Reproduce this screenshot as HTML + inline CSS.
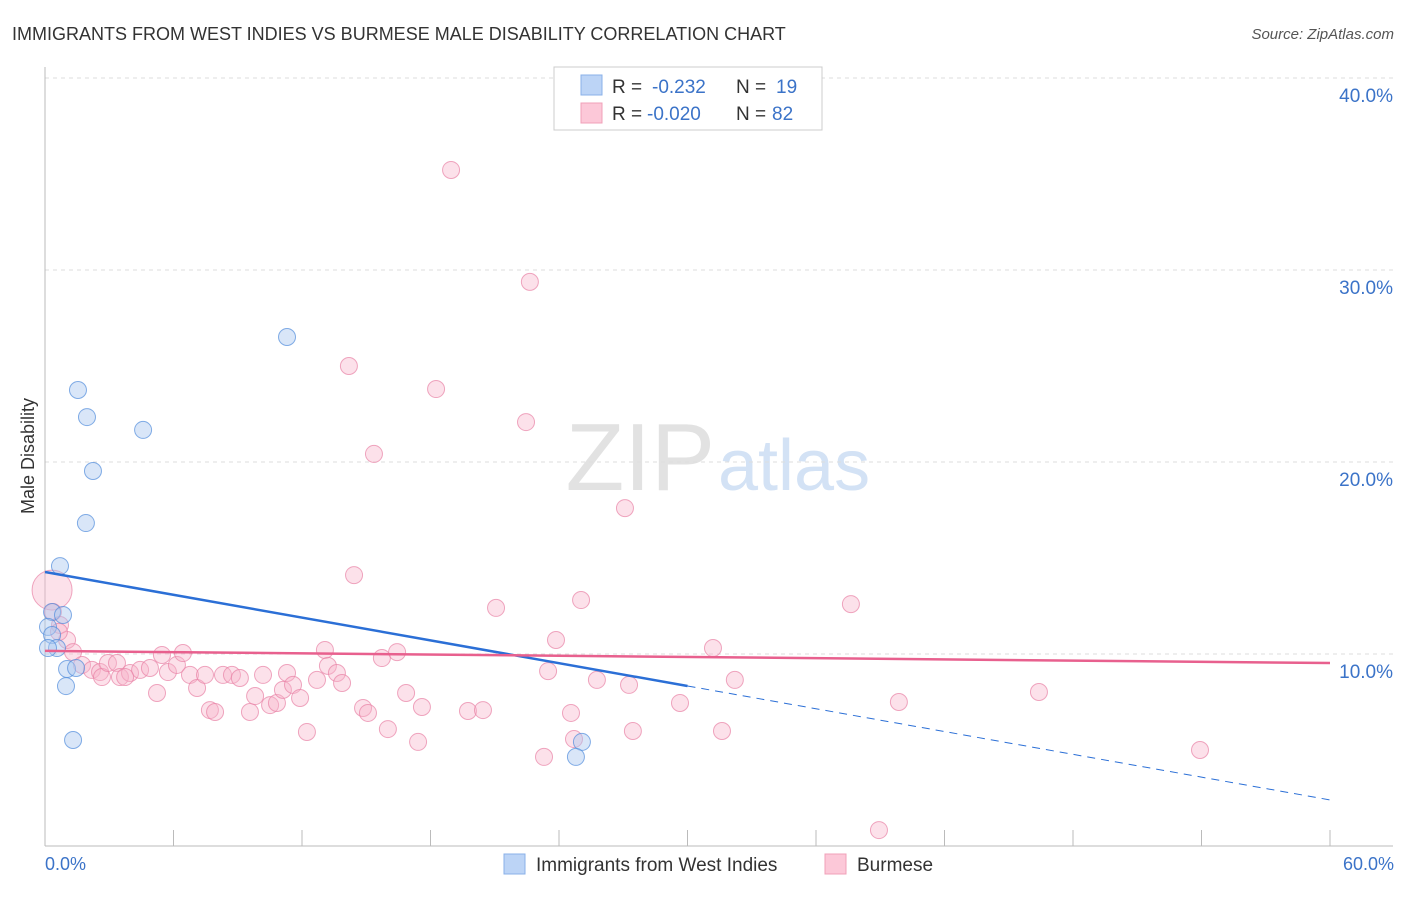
<!DOCTYPE html>
<html><head><meta charset="utf-8"><style>
body{margin:0;background:#fff;font-family:"Liberation Sans",sans-serif;}
svg text{font-family:"Liberation Sans",sans-serif;}
</style></head><body>
<svg id="chart" width="1406" height="892">
<text x="12" y="40" font-size="18" fill="#333">IMMIGRANTS FROM WEST INDIES VS BURMESE MALE DISABILITY CORRELATION CHART</text>
<text x="1394" y="39" font-size="15" fill="#555" font-style="italic" text-anchor="end">Source: ZipAtlas.com</text>
<text x="715" y="490" font-size="96" fill="#e2e2e2" text-anchor="end" font-family="Liberation Serif">ZIP</text>
<text x="718" y="490" font-size="72" fill="#d3e2f5">atlas</text>
<g id="grid"></g><g id="axes"></g><g id="pts"></g><g id="lines"></g>
<text transform="translate(34,456) rotate(-90)" font-size="18" fill="#333" text-anchor="middle">Male Disability</text>
<text x="45" y="870" font-size="18" fill="#3b73c8">0.0%</text>
<text x="1394" y="870" font-size="18" fill="#3b73c8" text-anchor="end">60.0%</text>
<g>
<rect x="554" y="67" width="268" height="63" fill="#fff" stroke="#ccc"/>
<rect x="581" y="75" width="21" height="20" fill="#bcd4f6" stroke="#8ab0e8"/>
<rect x="581" y="103" width="21" height="20" fill="#fcc8d8" stroke="#f0a0b8"/>
<text x="612" y="93" font-size="19" fill="#333">R = <tspan fill="#3b73c8" x="652">-0.232</tspan><tspan fill="#333" x="736">N = </tspan><tspan fill="#3b73c8" x="776">19</tspan></text>
<text x="612" y="120" font-size="19" fill="#333">R = <tspan fill="#3b73c8" x="647">-0.020</tspan><tspan fill="#333" x="736">N = </tspan><tspan fill="#3b73c8" x="772">82</tspan></text>
</g>
<g>
<rect x="504" y="854" width="21" height="20" fill="#bcd4f6" stroke="#8ab0e8"/>
<text x="536" y="871" font-size="19" fill="#333">Immigrants from West Indies</text>
<rect x="825" y="854" width="21" height="20" fill="#fcc8d8" stroke="#f0a0b8"/>
<text x="857" y="871" font-size="19" fill="#333">Burmese</text>
</g>
</svg>
<script>
const yTicks=[10,20,30,40];
const xTicks=[6,12,18,24,30,36,42,48,54,60];
const blueX=[11.30,1.54,1.96,4.58,2.24,1.91,0.70,0.33,0.84,0.14,0.33,0.56,0.14,1.03,1.45,0.98,1.31,25.07,24.79];
const blueY=[26.51,23.75,22.34,21.67,19.53,16.82,14.58,12.19,12.03,11.41,10.99,10.31,10.31,9.22,9.27,8.33,5.52,5.42,4.64];
const pinkX=[18.96,22.64,14.19,18.26,22.46,15.36,27.08,14.43,25.03,37.63,21.06,23.86,31.19,13.07,0.33,0.37,0.70,1.03,1.31,1.73,2.19,2.57,2.66,2.94,3.36,3.50,3.97,4.44,4.90,5.23,5.46,5.74,6.16,6.44,6.77,7.10,7.47,7.70,7.94,8.31,8.73,9.10,9.57,9.81,10.18,10.51,10.83,11.11,11.30,11.58,11.91,12.23,12.70,13.21,13.63,13.87,14.85,15.08,15.73,16.01,16.44,16.86,17.42,17.60,19.75,20.45,23.49,23.30,24.56,24.70,25.77,27.27,27.45,29.65,32.21,31.61,39.87,46.41,53.93,38.94,3.74,0.65];
const pinkY=[35.21,29.38,25.0,23.80,22.08,20.42,17.60,14.11,12.81,12.60,12.40,10.73,10.31,10.21,13.33,12.19,11.51,10.73,10.10,9.43,9.17,9.06,8.80,9.53,9.53,8.80,9.01,9.17,9.27,7.97,9.95,9.06,9.43,10.05,8.91,8.23,8.91,7.08,6.98,8.91,8.91,8.75,6.98,7.81,8.91,7.34,7.45,8.13,9.01,8.39,7.71,5.94,8.65,9.38,9.01,8.49,7.19,6.93,9.79,6.09,10.10,7.97,5.42,7.24,7.03,7.08,9.11,4.64,6.93,5.57,8.65,8.39,5.99,7.45,8.65,5.99,7.50,8.02,5.00,0.83,8.80,11.15];
const pinkBig=[14];
const blueTrend=[14.27,2.40]; const blueSolidEnd=30.0;
const pinkTrend=[10.16,9.53];
const X=v=>45+v*1285/60, Y=v=>846-v*19.2;
const NS='http://www.w3.org/2000/svg';
function mk(p,t,a){const e=document.createElementNS(NS,t);for(const k in a)e.setAttribute(k,a[k]);document.getElementById(p).appendChild(e);return e;}
yTicks.forEach(t=>{
 const l=mk('grid','line',{x1:45,x2:1393,y1:Y(t),y2:Y(t),stroke:'#ddd','stroke-dasharray':'4,4'});
 
 
 const tx=mk('grid','text',{x:1393,y:Y(t)+24,'font-size':19,fill:'#3b73c8','text-anchor':'end'});tx.textContent=t.toFixed(1)+'%';
 
 
});
const ax=mk('axes','line',{x1:45,x2:45,y1:67,y2:846,stroke:'#bbb'});


const bx=mk('axes','line',{x1:45,x2:1393,y1:846,y2:846,stroke:'#bbb'});


xTicks.forEach(t=>{
 const k=mk('axes','line',{x1:X(t),x2:X(t),y1:830,y2:846,stroke:'#bbb'});
 
 
});
pinkX.forEach((v,i)=>{const c=mk('pts','circle',{cx:X(v),cy:Y(pinkY[i]),r:pinkBig.includes(i)?20:8.5,fill:'rgba(248,180,202,0.4)',stroke:'rgba(232,130,165,0.7)','stroke-width':1});
 
 });
blueX.forEach((v,i)=>{const c=mk('pts','circle',{cx:X(v),cy:Y(blueY[i]),r:8.5,fill:'rgba(170,200,240,0.45)',stroke:'rgba(80,140,220,0.7)','stroke-width':1});
 
 });
const bAt=x=>blueTrend[0]+(blueTrend[1]-blueTrend[0])*x/60;
const l1=mk('lines','line',{x1:X(0),y1:Y(bAt(0)),x2:X(blueSolidEnd),y2:Y(bAt(blueSolidEnd)),stroke:'#2b6fd6','stroke-width':2.5});


const l2=mk('lines','line',{x1:X(blueSolidEnd),y1:Y(bAt(blueSolidEnd)),x2:X(60),y2:Y(bAt(60)),stroke:'#2b6fd6','stroke-width':1,'stroke-dasharray':'8,6'});


const l3=mk('lines','line',{x1:X(0),y1:Y(pinkTrend[0]),x2:X(60),y2:Y(pinkTrend[1]),stroke:'#e8608e','stroke-width':2.5});


</script>
</body></html>
